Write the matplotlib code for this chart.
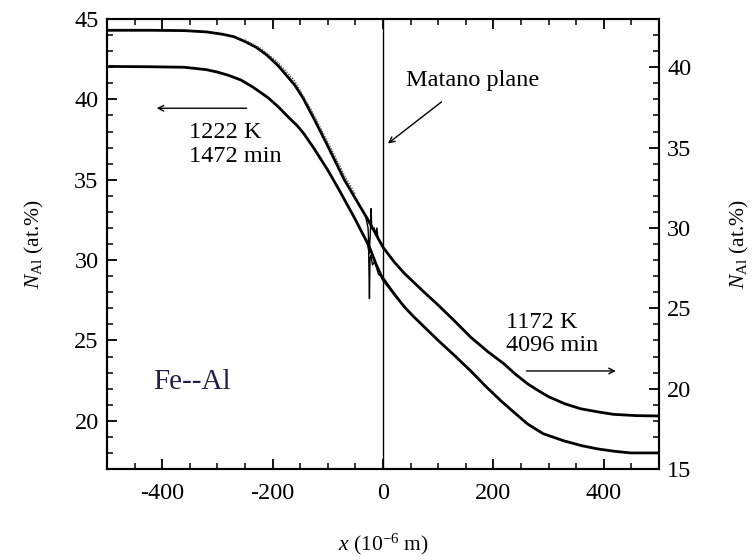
import matplotlib
matplotlib.use("Agg")
import matplotlib.pyplot as plt
from matplotlib.ticker import MultipleLocator

plt.rcParams['font.family'] = ['Liberation Serif', 'DejaVu Serif']
plt.rcParams['mathtext.fontset'] = 'custom'
plt.rcParams['mathtext.rm'] = 'Liberation Serif'
plt.rcParams['mathtext.it'] = 'Liberation Serif:italic'

# Upper profile, 1222 K / 1472 min (left axis, at.%)
upper_x = [-500, -420, -360, -320, -290, -270, -250, -230, -210, -190, -175, -160,
           -145, -125, -100, -70, -40, -27, -15, 0, 20, 38, 70, 100, 130, 159, 190,
           219, 240, 262, 285, 300, 330, 358, 390, 418, 460, 500]
upper_y = [44.3, 44.3, 44.28, 44.2, 44.05, 43.9, 43.6, 43.25, 42.75, 42.1, 41.5, 40.9,
           40.1, 38.8, 37.1, 35.0, 33.25, 32.5, 31.75, 30.8, 29.9, 29.2, 28.15, 27.2,
           26.2, 25.2, 24.3, 23.55, 22.9, 22.3, 21.8, 21.5, 21.05, 20.75, 20.55, 20.4,
           20.32, 20.3]

# Thin measured trace near the Matano plane (upper profile, spikes)
upper_spike_x = [-32, -27, -25, -23, -21.5, -20.5, -19, -16, -13, -11, -9, -6, 0]
upper_spike_y = [32.8, 32.0, 30.4, 31.6, 33.2, 32.1, 31.9, 32.0, 31.6, 32.0, 31.3, 31.2, 30.9]

# Measured points (dotted) alongside the upper profile
meas_x = [-250, -220, -190, -160, -130, -100, -70, -50]
meas_y = [43.7, 43.15, 42.3, 41.15, 39.35, 37.35, 35.3, 34.1]

# Lower profile, 1172 K / 4096 min (right axis, at.%)
lower_x = [-495, -420, -360, -320, -300, -280, -257, -235, -208, -190, -170, -155,
           -143, -125, -100, -80, -52, -25, -12, 0, 20, 38, 55, 70, 100, 130, 159, 186,
           215, 240, 262, 290, 328, 360, 389, 420, 449, 500]
lower_y = [40.05, 40.03, 40.0, 39.85, 39.7, 39.5, 39.2, 38.75, 38.1, 37.55, 36.85, 36.35,
           35.85, 34.95, 33.6, 32.4, 30.65, 28.85, 27.7, 26.8, 25.9, 25.12, 24.5, 24.0,
           23.0, 22.05, 21.1, 20.15, 19.2, 18.45, 17.8, 17.2, 16.75, 16.45, 16.25, 16.1,
           16.0, 16.0]

# Thin measured trace near the Matano plane (lower profile, spike)
lower_spike_x = [-30, -26, -24.5, -23.5, -22, -19, -15, -8, 0, 15, 30]
lower_spike_y = [29.3, 28.6, 25.6, 28.1, 28.3, 27.7, 27.9, 27.1, 26.95, 26.2, 25.5]

x_ticks = [-400, -200, 0, 200, 400]
left_ticks = [20, 25, 30, 35, 40, 45]
right_ticks = [15, 20, 25, 30, 35, 40]

fig = plt.figure(figsize=(7.55, 5.6), dpi=100)
ax = fig.add_axes([0.1417, 0.1625, 0.7311, 0.8035])
ax2 = ax.twinx()

ax.plot(upper_x, upper_y, color='black', lw=2.0, solid_joinstyle='round')
ax.plot(upper_spike_x, upper_spike_y, color='black', lw=1.0)
ax.plot(meas_x, meas_y, color='#555555', lw=1.0, ls=(0, (1, 1)))
ax2.plot(lower_x, lower_y, color='black', lw=2.0, solid_joinstyle='round')
ax2.plot(lower_spike_x, lower_spike_y, color='black', lw=1.0)
ax.axvline(0, color='black', lw=1.0)

ax.set_xlim(-500, 500)
ax.set_ylim(17, 45)
ax2.set_ylim(15, 43)

ax.set_xticks(x_ticks)
ax.set_xticklabels([str(v) for v in x_ticks])
ax.set_yticks(left_ticks)
ax2.set_yticks(right_ticks)
ax.xaxis.set_minor_locator(MultipleLocator(50))
ax.yaxis.set_minor_locator(MultipleLocator(1))
ax2.yaxis.set_minor_locator(MultipleLocator(1))

ax.tick_params(axis='x', which='both', direction='in', top=True, bottom=True,
               labelsize=17.5, pad=10)
ax.tick_params(axis='x', which='major', length=7, width=1.3)
ax.tick_params(axis='x', which='minor', length=4, width=1.1)
ax.tick_params(axis='y', which='both', direction='in', left=True, right=False,
               labelsize=17.5, pad=6)
ax.tick_params(axis='y', which='major', length=7, width=1.3)
ax.tick_params(axis='y', which='minor', length=4, width=1.1)
ax2.tick_params(axis='y', which='both', direction='in', right=True, left=False,
                labelsize=17.5, pad=6)
ax2.tick_params(axis='y', which='major', length=7, width=1.3)
ax2.tick_params(axis='y', which='minor', length=4, width=1.1)

for sp in ax.spines.values():
    sp.set_linewidth(1.5)
for sp in ax2.spines.values():
    sp.set_linewidth(1.5)

ax.set_xlabel('$x$ (10$^{-6}$ m)', fontsize=15.5, labelpad=20)
ax.set_ylabel('$N_{\\mathrm{Al}}$ (at.%)', fontsize=15.5, labelpad=20)
ax2.set_ylabel('$N_{\\mathrm{Al}}$ (at.%)', fontsize=15.5, labelpad=26)

ax.text(-416, 22.4, 'Fe--Al', fontsize=21, color='#20204a', va='center', ha='left')
ax.text(-351, 37.2, '1222 K\n1472 min', fontsize=17.5, va='center', ha='left',
        linespacing=1.15)
ax.annotate('', xy=(-415, 39.45), xytext=(-242, 39.45),
            arrowprops=dict(arrowstyle='->', lw=1.0, color='black'))
ax.text(42, 41.2, 'Matano plane', fontsize=17.5, va='center', ha='left')
ax.annotate('', xy=(5, 37.15), xytext=(110, 39.95),
            arrowprops=dict(arrowstyle='->', lw=1.0, color='black'))
ax.text(223, 25.4, '1172 K\n4096 min', fontsize=17.5, va='center', ha='left',
        linespacing=1.15)
ax.annotate('', xy=(427, 23.1), xytext=(255, 23.1),
            arrowprops=dict(arrowstyle='->', lw=1.0, color='black'))

fig.savefig('out.png', dpi=100)
